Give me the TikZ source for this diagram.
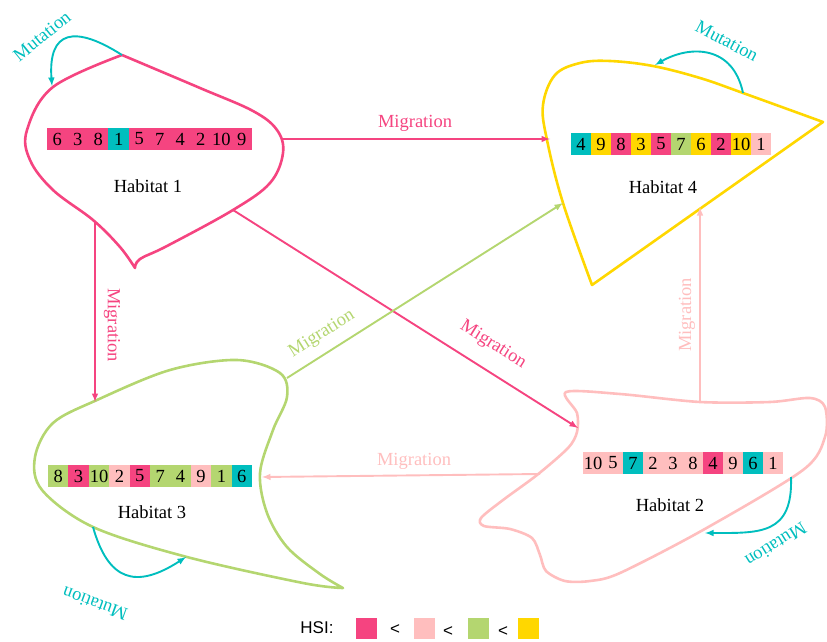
\documentclass[tikz,border=0pt]{standalone}
\usepackage{fontspec}
\setmainfont{Liberation Serif}
\setsansfont{Liberation Sans}
\usetikzlibrary{arrows}
\definecolor{hsiA}{RGB}{245,68,128}
\definecolor{hsiB}{RGB}{255,190,190}
\definecolor{hsiC}{RGB}{180,214,112}
\definecolor{hsiD}{RGB}{255,215,0}
\definecolor{mutcol}{RGB}{0,190,190}
\tikzstyle{gene}=[rectangle
,minimum width=20.6pt
,minimum height=22pt
,inner sep=0pt
,font=\fontsize{18.5}{20}\selectfont
]
\tikzstyle{habitat name}=[font=\fontsize{18.5}{20}\selectfont]
\tikzstyle{mig label}=[font=\fontsize{18.5}{20}\selectfont, inner sep=0pt]
\tikzstyle{habitat edge}=[draw, line width=2.6pt, line join=round]
\tikzstyle{migration}=[draw, line width=1.9pt, -latex]
\tikzstyle{mutation}=[draw, line width=1.9pt, mutcol, -latex]

\begin{document}
\begin{tikzpicture}[x=1pt,y=-1pt]
    \useasboundingbox (0,0) rectangle (827,642);
    % Draw the four habitats
    \path[habitat edge, hsiA] plot[smooth, tension=0.6] coordinates {(122,55) (53,87) (27,130) (30,160) (53,190) (93,220) (120,247) (135,268)}
        -- plot[smooth, tension=0.6] coordinates {(135,268) (140,259) (167,246) (233,210) (270,183) (283,153) (277,130) (253,111) (200,88) (122,55)} -- cycle;
    \path[habitat edge, hsiD] plot[smooth, tension=0.6] coordinates {(592,285) (563,203) (547,140) (543,105) (555,75) (580,63) (610,61) (653,66) (700,78) (743,93) (823,122)}
        -- (592,285) -- cycle;
    \path[habitat edge, hsiC] plot[smooth, tension=0.55] coordinates {(343,588) (320,574) (287,547) (267,513) (260,473) (273,430) (287,397) (280,373) (237,360) (170,370) (97,400) (53,423) (35,457) (42,490) (93,527) (187,557) (303,583) (343,588)} -- cycle;
    \path[habitat edge, hsiB] plot[smooth cycle, tension=0.5] coordinates {(566,392) (577,413) (577,432) (568,448) (537,475) (503,500) (481,518) (484,526) (510,529) (532,538) (540,555) (546,571) (565,581) (590,581) (620,573) (703,530) (803,470) (825,437) (825,407) (810,398) (770,402) (700,402) (620,394)};

    % Chromosomes
    \foreach \val/\col [count=\i] in {6/hsiA, 3/hsiA, 8/hsiA, 1/mutcol, 5/hsiA, 7/hsiA, 4/hsiA, 2/hsiA, 10/hsiA, 9/hsiA}
        \node[gene, fill=\col] (H1_\i) at ({36.75+20.5*\i},139) {\val};
    \foreach \val/\col [count=\i] in {4/mutcol, 9/hsiD, 8/hsiA, 3/hsiD, 5/hsiA, 7/hsiC, 6/hsiD, 2/hsiA, 10/hsiD, 1/hsiB}
        \node[gene, fill=\col] (H4_\i) at ({561+20*\i},144) {\val};
    \foreach \val/\col [count=\i] in {8/hsiC, 3/hsiA, 10/hsiC, 2/hsiB, 5/hsiA, 7/hsiC, 4/hsiC, 9/hsiB, 1/hsiC, 6/mutcol}
        \node[gene, fill=\col] (H3_\i) at ({37.8+20.4*\i},476) {\val};
    \foreach \val/\col [count=\i] in {10/hsiB, 5/hsiB, 7/mutcol, 2/hsiB, 3/hsiB, 8/hsiB, 4/hsiA, 9/hsiB, 6/mutcol, 1/hsiB}
        \node[gene, fill=\col] (H2_\i) at ({573+20*\i},463) {\val};

    \foreach \pos/\name/\txt in {{(148,186)/hab1/Habitat 1}, {(670,505)/hab2/Habitat 2}, {(152,512)/hab3/Habitat 3}, {(663,187)/hab4/Habitat 4}}
        \node[habitat name] (\name) at \pos {\txt};

    % Points on the habitat borders
    \foreach \x/\y/\name in {282/139/h1right, 95/223/h1low, 233/210/h1diag, 122/55/h1top, 52/86/h1left,
        550/139/h4left, 563/203/h4low, 700/207/h4bot, 743/93/h4top, 655/65/h4arc,
        95/402/h3top, 287/378/h3right, 262/477/h3side, 93/527/h3bot, 186/557/h3arc,
        578/428/h2left, 700/402/h2top, 540/474/h2side, 791/477/h2right, 705/533/h2arc}
        \coordinate (\name) at (\x,\y);

    % Migration
    \path[migration, hsiA] (h1right) -- (h4left);
    \path[migration, hsiA] (h1low) -- (h3top);
    \path[migration, hsiA] (h1diag) -- (h2left);
    \path[migration, hsiC] (h3right) -- (h4low);
    \path[migration, hsiB] (h2top) -- (h4bot);
    \path[migration, hsiB] (h2side) -- (h3side);

    \node[mig label, text=hsiA] (m14) at (415,123) {Migration};
    \node[mig label, text=hsiA, rotate=-90] (m13) at (112,325) {Migration};
    \node[mig label, text=hsiA, rotate=-32] (m12) at (493,345) {Migration};
    \node[mig label, text=hsiC, rotate=32] (m34) at (322,334) {Migration};
    \node[mig label, text=hsiB, rotate=90] (m24) at (687,315) {Migration};
    \node[mig label, text=hsiB] (m23) at (414,461) {Migration};

    % Mutation
    \path[mutation] (h1top) .. controls (75,25) and (48,30) .. (h1left);
    \path[mutation] (h4top) .. controls (733,45) and (690,45) .. (h4arc);
    \path[mutation] (h2right) .. controls (793,535) and (760,533) .. (h2arc);
    \path[mutation] (h3bot) .. controls (108,580) and (135,590) .. (h3arc);

    \node[mig label, text=mutcol, rotate=39] (u1) at (42,36) {Mutation};
    \node[mig label, text=mutcol, rotate=-28] (u4) at (727,41) {Mutation};
    \node[mig label, text=mutcol, rotate=212] (u2) at (776,545) {Mutation};
    \node[mig label, text=mutcol, rotate=160] (u3) at (95,604) {Mutation};

    % Legend
    \node[font=\sffamily\fontsize{17}{18}\selectfont] (hsi) at (317,628) {HSI:};
    \foreach \x/\name/\col in {366/key1/hsiA, 424/key2/hsiB, 478/key3/hsiC, 528/key4/hsiD}
        \node[fill=\col, minimum size=21pt, inner sep=0pt] (\name) at (\x,628) {};
    \foreach \x/\y/\name in {395/630/lt1, 448/632/lt2, 503/632/lt3}
        \node[font=\sffamily\fontsize{17}{18}\selectfont] (\name) at (\x,\y) {<};
\end{tikzpicture}
\end{document}
